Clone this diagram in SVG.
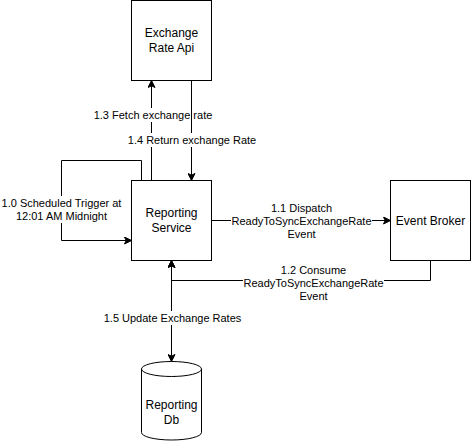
<svg xmlns="http://www.w3.org/2000/svg" width="472" height="441" viewBox="0 0 472 441">
  <style>
    .node { fill: #ffffff; stroke: #000000; stroke-width: 1; }
    .edge { fill: none; stroke: #000000; stroke-width: 1; }
    .nt { font-family: "Liberation Sans", Arial, Helvetica, sans-serif; font-size: 12px; fill: #000000; text-anchor: middle; }
    .et { font-family: "Liberation Sans", Arial, Helvetica, sans-serif; font-size: 11px; fill: #000000; text-anchor: middle; }
    .bg { fill: #ffffff; stroke: none; }
  </style>
  <defs>
    <marker id="arrow" viewBox="0 0 8 8" refX="7.5" refY="4" markerWidth="8" markerHeight="8" markerUnits="userSpaceOnUse" orient="auto-start-reverse">
      <path d="M0.5,0.5 L7.5,4 L0.5,7.5 L2.2,4 Z" fill="#000000" stroke="#000000" stroke-width="1" stroke-linejoin="miter"/>
    </marker>
  </defs>
  <rect width="472" height="441" fill="#ffffff"/>

  <g id="connectors">
    <!-- 1.0 loop -->
    <g id="edge-1-0">
      <path class="edge" d="M141.5,180.5 L141.5,160.5 L61.5,160.5 L61.5,240.5 L131.5,240.5" marker-end="url(#arrow)"/>
      <rect class="bg" x="2" y="196" width="119" height="27"/>
      <text class="et" x="61.5" y="206.5">1.0 Scheduled Trigger at</text>
      <text class="et" x="61.5" y="219.5">12:01 AM Midnight</text>
    </g>
    <!-- 1.3 fetch -->
    <g id="edge-1-3">
      <path class="edge" d="M151.5,180.5 L151.5,80.5" marker-end="url(#arrow)"/>
      <rect class="bg" x="95" y="108" width="117" height="14"/>
      <text class="et" x="153" y="119">1.3 Fetch exchange rate</text>
    </g>
    <!-- 1.4 return -->
    <g id="edge-1-4">
      <path class="edge" d="M191.5,80.5 L191.5,180.5" marker-end="url(#arrow)"/>
      <rect class="bg" x="127" y="133" width="130" height="14"/>
      <text class="et" x="192" y="144">1.4 Return exchange Rate</text>
    </g>
    <!-- 1.1 dispatch -->
    <g id="edge-1-1">
      <path class="edge" d="M211.5,220.5 L390.5,220.5" marker-end="url(#arrow)"/>
      <rect class="bg" x="231" y="201" width="141" height="40"/>
      <text class="et" x="301.5" y="212">1.1 Dispatch</text>
      <text class="et" x="301.5" y="225">ReadyToSyncExchangeRate</text>
      <text class="et" x="301.5" y="238">Event</text>
    </g>
    <!-- 1.2 consume -->
    <g id="edge-1-2">
      <path class="edge" d="M430.5,260.5 L430.5,280.5 L171.5,280.5 L171.5,260.5" marker-end="url(#arrow)"/>
      <rect class="bg" x="243" y="263" width="141" height="40"/>
      <text class="et" x="313.5" y="274">1.2 Consume</text>
      <text class="et" x="313.5" y="287">ReadyToSyncExchangeRate</text>
      <text class="et" x="313.5" y="300">Event</text>
    </g>
    <!-- 1.5 update -->
    <g id="edge-1-5">
      <path class="edge" d="M171.5,260.5 L171.5,361.5" marker-start="url(#arrow)" marker-end="url(#arrow)"/>
      <rect class="bg" x="103" y="311" width="139" height="14"/>
      <text class="et" x="172.5" y="322">1.5 Update Exchange Rates</text>
    </g>
  </g>

  <g id="node-exchange-rate-api">
    <rect class="node" x="131.5" y="0.5" width="80" height="80"/>
    <text class="nt" x="171.5" y="37">Exchange</text>
    <text class="nt" x="171.5" y="52">Rate Api</text>
  </g>

  <g id="node-reporting-service">
    <rect class="node" x="131.5" y="180.5" width="80" height="80"/>
    <text class="nt" x="171.5" y="217">Reporting</text>
    <text class="nt" x="171.5" y="232">Service</text>
  </g>

  <g id="node-event-broker">
    <rect class="node" x="390.5" y="180.5" width="80" height="80"/>
    <text class="nt" x="430.5" y="224.5">Event Broker</text>
  </g>

  <g id="node-reporting-db">
    <path class="node" d="M141.5,369 A30,7.5 0 0 1 201.5,369 L201.5,432.5 A30,7.5 0 0 1 141.5,432.5 Z"/>
    <path class="edge" d="M141.5,369 A30,7.5 0 0 0 201.5,369"/>
    <text class="nt" x="171.5" y="409">Reporting</text>
    <text class="nt" x="171.5" y="424">Db</text>
  </g>
</svg>
